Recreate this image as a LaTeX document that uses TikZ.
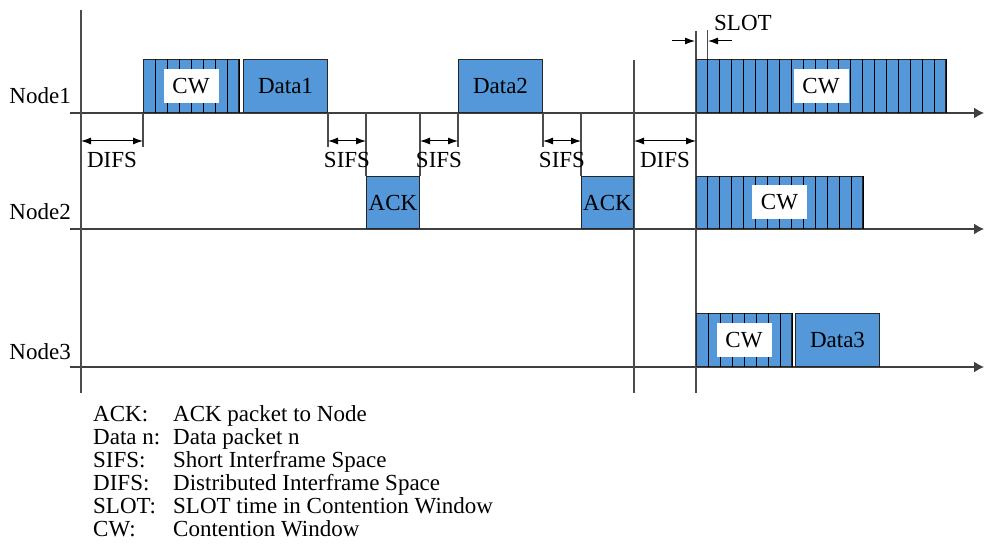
\documentclass[tikz,border=0pt]{standalone}
\usepackage{fontspec}
\setmainfont{Liberation Serif}
\usetikzlibrary{arrows.meta}
\usetikzlibrary{calc}
\usetikzlibrary{positioning}
\definecolor{pktblue}{RGB}{84,152,218}
\tikzset{
	>={Latex[length=10pt,width=7pt]},
	pkt/.style={
		rectangle,
		fill=pktblue,
		draw=black!85, line width=1pt,
		minimum height=53pt,
		inner sep=0pt,
		anchor=south west},
	cwlabel/.style={
		fill=white,
		minimum width=55pt,
		minimum height=34pt,
		inner sep=0pt},
	tline/.style={draw=black!75, line width=1.4pt, -{Latex[length=10pt,width=11pt]}},
	guide/.style={draw=black!70, line width=1.4pt},
	interval/.style={draw, line width=1pt, <->},
	ivlabel/.style={below=11pt, inner sep=0pt},
	slotline/.style={draw=black, line width=0.9pt},
}

\begin{document}
\begin{tikzpicture}
	[x=1pt, y=-1pt, font=\fontsize{23}{23}\selectfont]
	\useasboundingbox (0,0) rectangle (985,545);

	% time lines of the three nodes
	\node[anchor=base east, inner sep=0pt] (lab1) at (71,104) {Node1};
	\node[anchor=base east, inner sep=0pt] (lab2) at (71,220) {Node2};
	\node[anchor=base east, inner sep=0pt] (lab3) at (71,359) {Node3};
	\coordinate (o1) at (70,113);
	\coordinate (o2) at (70,229);
	\coordinate (o3) at (70,367);
	\draw[tline] (o1) -- (984,113);
	\draw[tline] (o2) -- (984,229);
	\draw[tline] (o3) -- (984,367);

	% long guides
	\draw[guide] (81,10) -- (81,393);
	\draw[guide] (634,60) -- (634,393);
	\draw[guide] (696,31) -- (696,393);

	% frames
	\node[pkt, minimum width=95pt] (cw1) at (143,113) {};
	\node[pkt, minimum width=84pt] (data1) at (243,113) {Data1};
	\node[pkt, minimum width=53pt, minimum height=52pt] (ack1) at (366,229) {ACK};
	\node[pkt, minimum width=84pt] (data2) at (458,113) {Data2};
	\node[pkt, minimum width=52pt, minimum height=52pt] (ack2) at (581,229) {ACK};
	\node[pkt, minimum width=249pt] (cw4) at (696,113) {};
	\node[pkt, minimum width=166pt, minimum height=52pt] (cw5) at (696,229) {};
	\node[pkt, minimum width=95pt] (cw6) at (696,367) {};
	\node[pkt, minimum width=84pt] (data3) at (795,367) {Data3};

	% slots of the contention windows
	\foreach \b/\n in {cw1/8, cw4/21, cw5/14, cw6/8}
		\foreach \i in {1,...,\n}
			\draw[slotline] ($(\b.south west)!\i/\n!(\b.south east)$) -- ($(\b.north west)!\i/\n!(\b.north east)$);
	\node[cwlabel] (cwl1) at (cw1) {CW};
	\node[cwlabel] (cwl4) at (cw4) {CW};
	\node[cwlabel] (cwl5) at (cw5) {CW};
	\node[cwlabel] (cwl6) at (cw6) {CW};

	% edges of the frames
	\draw[guide] (cw1.south west) -- ++(0,34);
	\draw[guide] (data1.south east) -- ++(0,34);
	\draw[guide] (data2.south west) -- ++(0,34);
	\draw[guide] (data2.south east) -- ++(0,34);
	\draw[guide] (ack1.north west) -- (ack1.north west |- o1);
	\draw[guide] (ack1.north east) -- (ack1.north east |- o1);
	\draw[guide] (ack2.north west) -- (ack2.north west |- o1);

	% interframe spaces
	\coordinate (m0) at (81,141);
	\coordinate (m1) at (634,141);
	\draw[interval] (m0) -- (m0 -| cw1.south west) node[ivlabel, midway] {DIFS};
	\draw[interval] (m0 -| data1.south east) -- (m0 -| ack1.north west) node[ivlabel, midway] {SIFS};
	\draw[interval] (m0 -| ack1.north east) -- (m0 -| data2.south west) node[ivlabel, midway] {SIFS};
	\draw[interval] (m0 -| data2.south east) -- (m0 -| ack2.north west) node[ivlabel, midway] {SIFS};
	\draw[interval] (m1) -- (m1 -| cw4.south west) node[ivlabel, midway] {DIFS};

	% slot time
	\coordinate (s0) at (672,41);
	\coordinate (s1) at (732,41);
	\draw[guide, line width=1pt] ($(cw4.north west)!1/21!(cw4.north east)$) -- ++(0,-29);
	\draw[line width=1pt, ->] (s0) -- (695,41);
	\draw[line width=1pt, ->] (s1) -- (708,41);
	\node[anchor=base west, inner sep=0pt] (slot) at (714,31) {SLOT};

	% legend
	\node[anchor=base west, inner sep=0pt] (legend) at (93,421.5) {%
		\begin{tabular}[t]{@{}p{80pt}@{}l@{}}
			ACK: & ACK packet to Node\\
			Data n: & Data packet n\\
			SIFS: & Short Interframe Space\\
			DIFS: & Distributed Interframe Space\\
			SLOT: & SLOT time in Contention Window\\
			CW: & Contention Window
		\end{tabular}};
\end{tikzpicture}
\end{document}
